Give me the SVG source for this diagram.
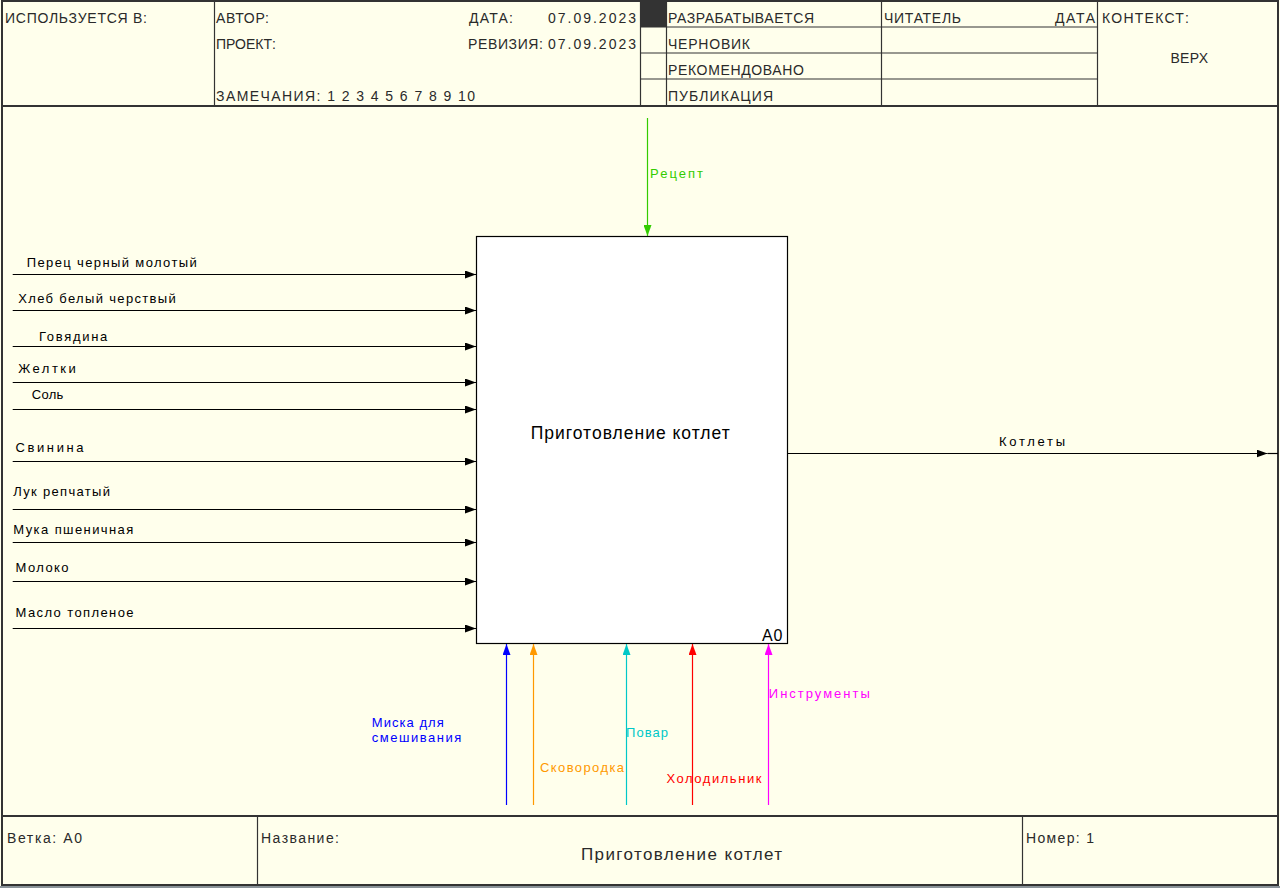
<svg xmlns="http://www.w3.org/2000/svg" width="1280" height="888" viewBox="0 0 1280 888">
<style>
.bg{fill:#FFFFEC}
.frame{fill:none;stroke:#333;stroke-width:2}
.ln{stroke:#333;stroke-width:1.2;fill:none}
.hd{font-family:"Liberation Sans",Arial,sans-serif;font-size:14px;fill:#2a2a2a}
.lbl{font-family:"Liberation Sans",Arial,sans-serif;font-size:13px}
.big{font-family:"Liberation Sans",Arial,sans-serif;font-size:17.5px;fill:#000}
.arr{fill:none;stroke-width:1.2}
</style>
<defs>
<marker id="mk" viewBox="0 0 11 8" refX="11" refY="4" markerWidth="11" markerHeight="8" markerUnits="userSpaceOnUse" orient="auto"><path d="M0,0 L11,4 L0,8 z" fill="#000"/></marker>
<marker id="mg" viewBox="0 0 11 8" refX="11" refY="4" markerWidth="11" markerHeight="8" markerUnits="userSpaceOnUse" orient="auto"><path d="M0,0 L11,4 L0,8 z" fill="#33CC00"/></marker>
<marker id="mb" viewBox="0 0 11 8" refX="11" refY="4" markerWidth="11" markerHeight="8" markerUnits="userSpaceOnUse" orient="auto"><path d="M0,0 L11,4 L0,8 z" fill="#0000FF"/></marker>
<marker id="mo" viewBox="0 0 11 8" refX="11" refY="4" markerWidth="11" markerHeight="8" markerUnits="userSpaceOnUse" orient="auto"><path d="M0,0 L11,4 L0,8 z" fill="#FF9900"/></marker>
<marker id="mc" viewBox="0 0 11 8" refX="11" refY="4" markerWidth="11" markerHeight="8" markerUnits="userSpaceOnUse" orient="auto"><path d="M0,0 L11,4 L0,8 z" fill="#00C8C8"/></marker>
<marker id="mr" viewBox="0 0 11 8" refX="11" refY="4" markerWidth="11" markerHeight="8" markerUnits="userSpaceOnUse" orient="auto"><path d="M0,0 L11,4 L0,8 z" fill="#FF0000"/></marker>
<marker id="mm" viewBox="0 0 11 8" refX="11" refY="4" markerWidth="11" markerHeight="8" markerUnits="userSpaceOnUse" orient="auto"><path d="M0,0 L11,4 L0,8 z" fill="#FF00FF"/></marker>
</defs>
<rect x="0" y="0" width="1280" height="888" fill="#8a9399"/>
<rect class="bg" x="0" y="0" width="1280" height="886"/>

<g id="header">
<rect class="frame" x="2" y="1" width="1276" height="105"/>
<line class="ln" x1="214.5" y1="1" x2="214.5" y2="106"/>
<line class="ln" x1="640.5" y1="1" x2="640.5" y2="106"/>
<line class="ln" x1="666.5" y1="1" x2="666.5" y2="106"/>
<line class="ln" x1="881.5" y1="1" x2="881.5" y2="106"/>
<line class="ln" x1="1097.5" y1="1" x2="1097.5" y2="106"/>
<line class="ln" x1="640.5" y1="27" x2="1097.5" y2="27"/>
<line class="ln" x1="640.5" y1="53" x2="1097.5" y2="53"/>
<line class="ln" x1="640.5" y1="79" x2="1097.5" y2="79"/>
<rect x="641" y="1" width="25" height="26" fill="#333"/>
<text class="hd" x="5" y="22.5" textLength="142">ИСПОЛЬЗУЕТСЯ В:</text>
<text class="hd" x="216" y="22.5" textLength="53">АВТОР:</text>
<text class="hd" x="469" y="22.5" textLength="44">ДАТА:</text>
<text class="hd" x="548" y="22.5" textLength="88">07.09.2023</text>
<text class="hd" x="216" y="48.5" textLength="60">ПРОЕКТ:</text>
<text class="hd" x="468" y="48.5" textLength="75">РЕВИЗИЯ:</text>
<text class="hd" x="548" y="48.5" textLength="88">07.09.2023</text>
<text class="hd" x="216" y="100.5" textLength="259">ЗАМЕЧАНИЯ: 1 2 3 4 5 6 7 8 9 10</text>
<text class="hd" x="668" y="22.5" textLength="146">РАЗРАБАТЫВАЕТСЯ</text>
<text class="hd" x="668" y="48.5" textLength="82">ЧЕРНОВИК</text>
<text class="hd" x="668" y="74.5" textLength="136">РЕКОМЕНДОВАНО</text>
<text class="hd" x="668" y="100.5" textLength="105">ПУБЛИКАЦИЯ</text>
<text class="hd" x="884" y="22.5" textLength="77">ЧИТАТЕЛЬ</text>
<text class="hd" x="1055" y="22.5" textLength="40">ДАТА</text>
<text class="hd" x="1102" y="22.5" textLength="87">КОНТЕКСТ:</text>
<text class="hd" x="1170.5" y="63" textLength="37.5">ВЕРХ</text>
</g>

<g id="body-frame">
<line class="frame" x1="2" y1="106" x2="2" y2="816"/>
<line class="frame" x1="1278" y1="106" x2="1278" y2="816"/>
</g>

<g id="footer">
<rect class="frame" x="2" y="816" width="1276" height="69"/>
<line class="ln" x1="257.5" y1="816" x2="257.5" y2="885"/>
<line class="ln" x1="1022.5" y1="816" x2="1022.5" y2="885"/>
<text class="hd" x="7" y="843" textLength="75">Ветка: A0</text>
<text class="hd" x="261" y="843" textLength="78">Название:</text>
<text class="hd" x="1026" y="843" textLength="68">Номер: 1</text>
<text class="big" x="581" y="859.5" style="fill:#2a2a2a;font-size:17px" textLength="201">Приготовление котлет</text>
</g>

<g id="node-A0">
<rect x="476.5" y="236.5" width="311" height="407" fill="#FFFFFF" stroke="#000" stroke-width="1.2"/>
<text class="big" x="530.7" y="439.3" textLength="199">Приготовление котлет</text>
<text class="big" x="762" y="641" style="font-size:16px" textLength="20.5">A0</text>
</g>

<g id="connectors">
<g stroke="#000" class="arr">
<path d="M12.7,274.5 H476" marker-end="url(#mk)"/>
<path d="M12.7,310.5 H476" marker-end="url(#mk)"/>
<path d="M12.7,346.5 H476" marker-end="url(#mk)"/>
<path d="M12.7,382.5 H476" marker-end="url(#mk)"/>
<path d="M12.7,409.5 H476" marker-end="url(#mk)"/>
<path d="M12.7,461.5 H476" marker-end="url(#mk)"/>
<path d="M12.7,509.5 H476" marker-end="url(#mk)"/>
<path d="M12.7,542.5 H476" marker-end="url(#mk)"/>
<path d="M12.7,581.5 H476" marker-end="url(#mk)"/>
<path d="M12.7,628.5 H476" marker-end="url(#mk)"/>
<path d="M787.5,453.5 H1267.5" marker-end="url(#mk)"/>
<path d="M1267.5,453.5 H1278"/>
</g>
<path class="arr" stroke="#33CC00" d="M647.5,118 V236" marker-end="url(#mg)"/>
<path class="arr" stroke="#0000FF" d="M506.5,805 V644" marker-end="url(#mb)"/>
<path class="arr" stroke="#FF9900" d="M533.5,805 V644" marker-end="url(#mo)"/>
<path class="arr" stroke="#00C8C8" d="M626.5,805 V644" marker-end="url(#mc)"/>
<path class="arr" stroke="#FF0000" d="M692.5,805 V644" marker-end="url(#mr)"/>
<path class="arr" stroke="#FF00FF" d="M768.5,805 V644" marker-end="url(#mm)"/>

<g class="lbl" fill="#000">
<text x="26.7" y="267.3" textLength="170">Перец черный молотый</text>
<text x="18.3" y="303.3" textLength="157.4">Хлеб белый черствый</text>
<text x="39" y="340.5" textLength="68.3">Говядина</text>
<text x="18.3" y="372.7" textLength="57.4">Желтки</text>
<text x="31.7" y="399.3" textLength="31.6">Соль</text>
<text x="15.5" y="451.7" textLength="68">Свинина</text>
<text x="13.3" y="495.7" textLength="96.7">Лук репчатый</text>
<text x="13.3" y="534.3" textLength="120">Мука пшеничная</text>
<text x="15.5" y="571.7" textLength="53">Молоко</text>
<text x="15.5" y="617.3" textLength="118">Масло топленое</text>
<text x="999" y="446" textLength="66">Котлеты</text>
</g>
<text class="lbl" fill="#33CC00" x="650" y="178.3" textLength="53">Рецепт</text>
<text class="lbl" fill="#0000FF" x="371.8" y="727.4" textLength="72">Миска для</text>
<text class="lbl" fill="#0000FF" x="371.8" y="742.3" textLength="89.6">смешивания</text>
<text class="lbl" fill="#FF9900" x="540" y="772" textLength="84">Сковородка</text>
<text class="lbl" fill="#00C8C8" x="626" y="737" textLength="42">Повар</text>
<text class="lbl" fill="#FF0000" x="666.4" y="782.8" textLength="95">Холодильник</text>
<text class="lbl" fill="#FF00FF" x="768.8" y="697.7" textLength="101">Инструменты</text>
</g>
</svg>
